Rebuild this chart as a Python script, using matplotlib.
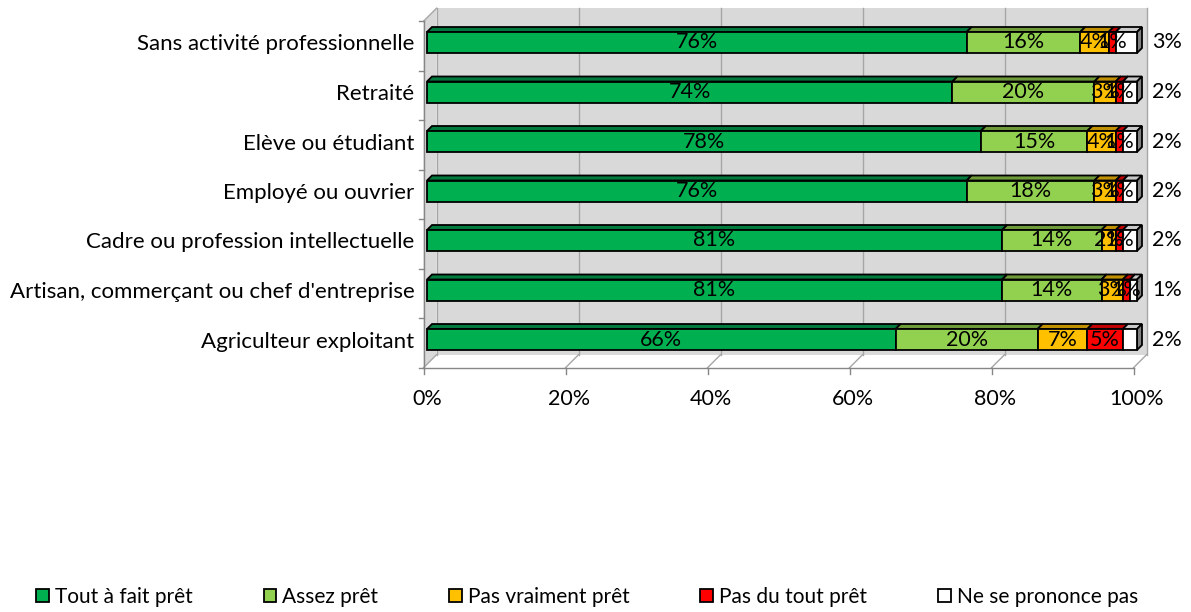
import matplotlib.pyplot as plt
from matplotlib.patches import Polygon, Patch

plt.rcParams['font.family'] = ['Lato', 'DejaVu Sans']

# Data, bottom to top
categories = ["Agriculteur exploitant",
              "Artisan, commerçant ou chef d'entreprise",
              "Cadre ou profession intellectuelle",
              "Employé ou ouvrier",
              "Elève ou étudiant",
              "Retraité",
              "Sans activité professionnelle"]
tout_a_fait = [66, 81, 81, 76, 78, 74, 76]
assez = [20, 14, 14, 18, 15, 20, 16]
pas_vraiment = [7, 3, 2, 3, 4, 3, 4]
pas_du_tout = [5, 1, 1, 1, 1, 1, 1]
ne_se_prononce = [2, 1, 2, 2, 2, 2, 3]
series_names = ["Tout à fait prêt", "Assez prêt", "Pas vraiment prêt",
                "Pas du tout prêt", "Ne se prononce pas"]
x_ticks = [0, 20, 40, 60, 80, 100]
x_tick_labels = ["0%", "20%", "40%", "60%", "80%", "100%"]

series = [tout_a_fait, assez, pas_vraiment, pas_du_tout, ne_se_prononce]
colors = ["#00B050", "#92D050", "#FFC000", "#FF0000", "#FFFFFF"]
top_colors = ["#007A3D", "#6E9A3A", "#C09000", "#C00000", "#C8C8C8"]

fig = plt.figure(figsize=(11.91, 6.12), dpi=100)
ax = fig.add_axes([427/1191, 247.75/612, 710/1191, 346.5/612])
ax.set_xlim(0, 100)
ax.set_ylim(-0.5, 6.5)

# pixel -> data conversions
ppx = 7.1
ppy = 49.5
fx, fy = -3.5/ppx, -3.5/ppy   # front of the 3D box
bx, by = 9.5/ppx, 9.5/ppy     # back wall
y0, y1 = -0.5, 6.5
wall = "#D9D9D9"
grid = "#A6A6A6"
axis_col = "#868686"

# back wall and left wall
ax.add_patch(Polygon([(bx, y0+by), (100+bx, y0+by), (100+bx, y1+by), (bx, y1+by)],
                     closed=True, fc=wall, ec="none", clip_on=False, zorder=0))
ax.add_patch(Polygon([(fx, y0+fy), (bx, y0+by), (bx, y1+by), (fx, y1+fy)],
                     closed=True, fc=wall, ec="none", clip_on=False, zorder=0))
for t in x_ticks:
    ax.plot([t+bx, t+bx], [y0+by, y1+by], color=grid, lw=1, clip_on=False, zorder=1)
    ax.plot([t+fx, t+bx], [y0+fy, y0+by], color=grid, lw=1, clip_on=False, zorder=1)
    ax.plot([t+fx, t+fx], [y0+fy, y0+fy-6/ppy], color=axis_col, lw=1, clip_on=False, zorder=1)
ax.plot([fx, bx], [y1+fy, y1+by], color=grid, lw=1, clip_on=False, zorder=1)
# front floor line and left axis
ax.plot([fx, 100+fx], [y0+fy, y0+fy], color=axis_col, lw=1, clip_on=False, zorder=1)
ax.plot([fx, fx], [y0+fy, y1+fy], color=axis_col, lw=1, clip_on=False, zorder=1)
for k in range(8):
    yy = k - 0.5 + fy
    ax.plot([fx - 5/ppx, fx], [yy, yy], color=axis_col, lw=1, clip_on=False, zorder=1)

# bars
h = 21/ppy
bdx, bdy = 5/ppx, 5/ppy
for i in range(len(categories)):
    left = 0
    yb, yt = i - h/2, i + h/2
    for s, vals in enumerate(series):
        v = vals[i]
        x1 = left + v
        ax.add_patch(Polygon([(left, yt), (x1, yt), (x1+bdx, yt+bdy), (left+bdx, yt+bdy)],
                             closed=True, fc=top_colors[s], ec="black", lw=1.3,
                             clip_on=False, zorder=3))
        ax.add_patch(Polygon([(left, yb), (x1, yb), (x1, yt), (left, yt)],
                             closed=True, fc=colors[s], ec="black", lw=1.3,
                             clip_on=False, zorder=4))
        if s < 4:
            ax.text(left + v/2, i, f"{v}%", ha="center", va="center",
                    fontsize=15.5, zorder=6)
        else:
            ax.text(100 + 15/ppx, i, f"{v}%", ha="left", va="center",
                    fontsize=15.5, zorder=6)
        left = x1
    ax.add_patch(Polygon([(left, yb), (left+bdx, yb+bdy), (left+bdx, yt+bdy), (left, yt)],
                         closed=True, fc="#808080", ec="black", lw=1.3,
                         clip_on=False, zorder=3))

ax.set_yticks(range(len(categories)))
ax.set_yticklabels(categories, fontsize=16)
ax.set_xticks(x_ticks)
ax.set_xticklabels(x_tick_labels, fontsize=15.5)
ax.tick_params(axis="y", length=0, pad=9)
ax.tick_params(axis="x", length=0, pad=18)
for sp in ax.spines.values():
    sp.set_visible(False)
ax.patch.set_visible(False)

handles = [Patch(fc=c, ec="black", lw=1.3) for c in colors]
fig.legend(handles, series_names, loc="center", bbox_to_anchor=(0.493, 1 - 597/612),
           ncol=5, frameon=False, fontsize=15, handlelength=0.6, handleheight=0.6,
           handletextpad=0.3, columnspacing=3.4)

fig.savefig("out.png", dpi=100)
